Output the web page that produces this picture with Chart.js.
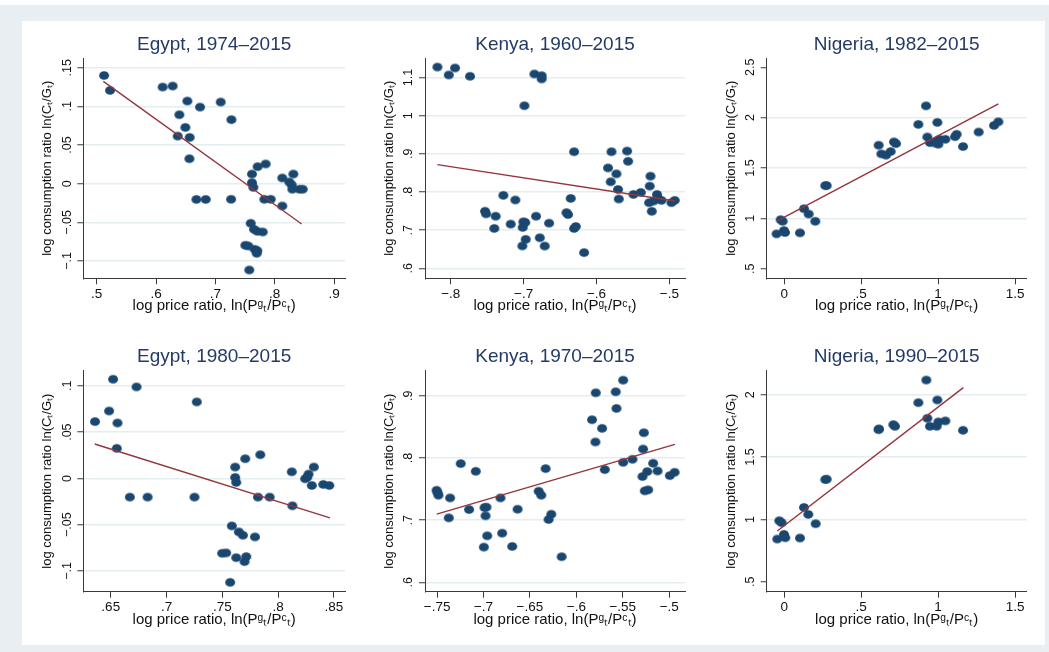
<!DOCTYPE html>
<html><head><meta charset="utf-8">
<script src="https://cdn.jsdelivr.net/npm/chart.js@4"></script>
<style>
html,body{margin:0;padding:0;background:#fff;width:1049px;height:652px;overflow:hidden;}
#frame{position:absolute;left:0;top:5px;width:1049px;height:647px;background:#e8eef1;}
#inner{position:absolute;left:22px;top:21px;width:1023px;height:624px;background:#fff;}
canvas{position:absolute;}
</style></head><body>
<div id="frame"></div><div id="inner"></div>
<script>
// ---------- DATA ----------
const panelTitles = ['Egypt, 1974–2015','Kenya, 1960–2015','Nigeria, 1982–2015','Egypt, 1980–2015','Kenya, 1970–2015','Nigeria, 1990–2015'];
const xAxisTitle = 'log price ratio, ln(Pᵍₜ/Pᶜₜ)';
const yAxisTitle = 'log consumption ratio ln(Cₜ/Gₜ)';

const egypt74X = [.5124,.5225,.6112,.628,.6528,.6742,.709,.727,.6393,.6494,.6365,.6567,.6562,.668,.6837,.7265,.7848,.7713,.7617,.7617,.764,.7825,.7933,.8128,.8314,.8246,.8286,.8297,.8415,.8472,.8128,.7596,.7652,.7707,.7798,.7505,.7555,.7663,.7707,.7697,.7572];
const egypt74Y = [.140,.1207,.125,.1263,.1069,.0991,.1056,.0828,.0892,.0728,.0616,.0599,.0323,-.0203,-.0203,-.0202,.0255,.022,.0125,.0013,-.0047,-.0202,-.0202,.0074,.0125,.0022,-.0013,-.0072,-.0072,-.0072,-.0288,-.0512,-.059,-.0616,-.0625,-.0797,-.0806,-.0849,-.0866,-.09,-.1116];
const egypt74FitX = [.5112,.8455];
const egypt74FitY = [.1323,-.0521];

const kenya60X = [-.8183,-.8027,-.7941,-.7735,-.6852,-.6752,-.6752,-.6989,-.6307,-.5794,-.558,-.5566,-.5841,-.5726,-.5804,-.5704,-.5694,-.5492,-.5392,-.5259,-.5269,-.5169,-.5155,-.5278,-.5214,-.5108,-.5241,-.4971,-.4926,-.6353,-.6412,-.639,-.665,-.6307,-.6284,-.6778,-.671,-.617,-.7278,-.7113,-.7529,-.7515,-.7383,-.7402,-.7177,-.7003,-.7012,-.6971,-.7017,-.6829,-.6978];
const kenya60Y = [1.1276,1.1068,1.125,1.1033,1.1094,1.105,1.0964,1.0262,.9056,.9056,.9074,.8806,.8632,.8476,.8268,.8068,.7818,.7938,.799,.8416,.8156,.7938,.7826,.7722,.7766,.7782,.7496,.7722,.7782,.7834,.7462,.741,.7184,.7046,.7098,.6804,.6586,.6414,.7913,.7792,.7497,.7428,.7367,.7047,.716,.722,.7073,.6761,.6588,.7367,.7203];
const kenya60FitX = [-.8183,-.4923];
const kenya60FitY = [.8719,.7766];

const nigeria82X = [-.0499,-.0238,-.0108,-.0022,.0043,.1019,.1279,.1582,.2016,.2753,.6135,.6308,.6612,.6915,.7132,.7262,.8714,.9213,.9299,.9473,.9863,.995,1.0015,1.008,1.047,1.1099,1.1207,1.1619,1.2638,1.3635,1.3917,.9798,.2666];
const nigeria82Y = [.8457,.9869,.9704,.8785,.8588,.8555,1.0952,1.0427,.9704,1.3251,1.7258,1.6404,1.6273,1.6634,1.7586,1.7422,1.9327,2.1166,1.8079,1.7521,1.7652,1.9524,1.7356,1.7849,1.7849,1.8112,1.8342,1.7126,1.8571,1.9228,1.9589,1.7488,1.325];
const nigeria82FitX = [-.0455,1.3917];
const nigeria82FitY = [.9737,2.1363];

const egypt80X = [.6359,.6485,.6521,.656,.6554,.6731,.6671,.683,.725,.7271,.7585,.7615,.7615,.7624,.7705,.784,.7819,.7924,.7648,.7684,.7792,.7498,.7534,.7624,.7714,.7699,.757,.8122,.8128,.8242,.8272,.832,.8302,.8404,.8458,.826];
const egypt80Y = [.0614,.0729,.1072,.0599,.0325,.0989,-.0202,-.0202,-.0202,.0827,-.0513,.0123,.0011,-.0043,.0213,.0256,-.0202,-.0202,-.0578,-.0614,-.0632,-.0809,-.0805,-.0856,-.0845,-.0899,-.1123,.0072,-.0296,-.0004,.0047,.0123,-.0076,-.0065,-.0076,.0011];
const egypt80FitX = [.6356,.8464];
const egypt80FitY = [.0372,-.0426];

const kenya70X = [-.7505,-.7495,-.7485,-.736,-.7374,-.7245,-.7155,-.7083,-.6989,-.6968,-.6978,-.696,-.6996,-.6817,-.6799,-.6691,-.6633,-.6406,-.6378,-.6331,-.6299,-.627,-.6158,-.5831,-.5795,-.5791,-.5723,-.5694,-.5576,-.5568,-.5496,-.5496,-.5396,-.5273,-.5281,-.5288,-.5263,-.5227,-.5237,-.5173,-.5126,-.4993,-.4942];
const kenya70Y = [.7481,.7444,.7401,.7358,.7037,.7909,.7171,.7786,.7203,.7209,.707,.6749,.6567,.7358,.6791,.6578,.7176,.7465,.7401,.7829,.7011,.7096,.6412,.8615,.8257,.9048,.8476,.7813,.9064,.8797,.9251,.793,.7979,.8406,.8144,.7701,.7471,.7487,.7781,.7914,.7791,.7717,.777];
const kenya70FitX = [-.7504,-.4939];
const kenya70FitY = [.7096,.8219];

const nigeria90X = [-.0455,-.0325,-.0173,-.0022,.0065,.1019,.1279,.1561,.2038,.2753,.2665,.6157,.6125,.7089,.7197,.8714,.9235,.93,.9473,.9907,.995,1.0015,1.047,1.1619];
const nigeria90Y = [.8425,.9893,.9733,.8799,.8532,.8505,1.0961,1.04,.9653,1.3229,1.32,1.7259,1.72,1.7606,1.7473,1.9367,2.1182,1.8113,1.7473,1.7473,1.9581,1.782,1.79,1.7152];
const nigeria90FitX = [-.0455,1.164];
const nigeria90FitY = [.9066,2.0568];

// tick values and labels
const egypt74XTicks = [.5,.6,.7,.8,.9];
const egypt74XLabels = ['.5','.6','.7','.8','.9'];
const egypt74YTicks = [-.1,-.05,0,.05,.1,.15];
const egypt74YLabels = ['−.1','−.05','0','.05','.1','.15'];
const kenya60XTicks = [-.8,-.7,-.6,-.5];
const kenya60XLabels = ['−.8','−.7','−.6','−.5'];
const kenya60YTicks = [.6,.7,.8,.9,1,1.1];
const kenya60YLabels = ['.6','.7','.8','.9','1','1.1'];
const nigeriaXTicks = [0,.5,1,1.5];
const nigeriaXLabels = ['0','.5','1','1.5'];
const nigeria82YTicks = [.5,1,1.5,2,2.5];
const nigeria82YLabels = ['.5','1','1.5','2','2.5'];
const egypt80XTicks = [.65,.7,.75,.8,.85];
const egypt80XLabels = ['.65','.7','.75','.8','.85'];
const egypt80YTicks = [-.1,-.05,0,.05,.1];
const egypt80YLabels = ['−.1','−.05','0','.05','.1'];
const kenya70XTicks = [-.75,-.7,-.65,-.6,-.55,-.5];
const kenya70XLabels = ['−.75','−.7','−.65','−.6','−.55','−.5'];
const kenya70YTicks = [.6,.7,.8,.9];
const kenya70YLabels = ['.6','.7','.8','.9'];
const nigeria90YTicks = [.5,1,1.5,2];
const nigeria90YLabels = ['.5','1','1.5','2'];

// axis ranges
const egypt74XRange = [.4774,.9185], egypt74YRange = [-.1224,.1622];
const kenya60XRange = [-.8353,-.4785], kenya60YRange = [.574,1.1504];
const nigeria82XRange = [-.1144,1.576], nigeria82YRange = [.4044,2.589];
const egypt80XRange = [.6254,.8599], egypt80YRange = [-.1224,.1166];
const kenya70XRange = [-.763,-.483], kenya70YRange = [.585,.9406];
const nigeria90XRange = [-.1144,1.576], nigeria90YRange = [.42,2.1946];

// ---------- LAYOUT / STYLE ----------
const FONT = '"Liberation Sans", Arial, Helvetica, sans-serif';
const colGeom = [{cl:28,cr:352,pl:83.3,pr:345},{cl:368,cr:692,pl:425,pr:685},{cl:708,cr:1040,pl:766.7,pr:1026.7}];
const rowGeom = [{ct:24,cb:322,pt:58.3,pb:278.3,titleY:45,xTitleY:306},{ct:334,cb:640,pt:370.5,pb:591.7,titleY:356.7,xTitleY:620}];
const MARKER = '#1a476f', FITCOL = '#93363c', GRID = '#e4edf0', AXIS = '#3a3a3a', TITLECOL = '#243a66', TEXT = '#111';
const TITLE_SIZE = 19, XT_SIZE = 15, YT_SIZE = 13, XTICK_SIZE = 13.5, YTICK_SIZE = 12.5, TICKLEN = 6;

function makeDot(w,h,color){
  const c=document.createElement('canvas');c.width=Math.ceil(w)+2;c.height=Math.ceil(h)+2;
  const g=c.getContext('2d');g.fillStyle=color;g.beginPath();g.ellipse(c.width/2,c.height/2,w/2,h/2,0,0,Math.PI*2);g.fill();return c;
}
const dot = makeDot(10,8.6,MARKER);

const panels = [
  {xs:egypt74X,ys:egypt74Y,fx:egypt74FitX,fy:egypt74FitY,xt:egypt74XTicks,xl:egypt74XLabels,yt:egypt74YTicks,yl:egypt74YLabels,xr:egypt74XRange,yr:egypt74YRange,noGrid:[]},
  {xs:kenya60X,ys:kenya60Y,fx:kenya60FitX,fy:kenya60FitY,xt:kenya60XTicks,xl:kenya60XLabels,yt:kenya60YTicks,yl:kenya60YLabels,xr:kenya60XRange,yr:kenya60YRange,noGrid:[]},
  {xs:nigeria82X,ys:nigeria82Y,fx:nigeria82FitX,fy:nigeria82FitY,xt:nigeriaXTicks,xl:nigeriaXLabels,yt:nigeria82YTicks,yl:nigeria82YLabels,xr:nigeria82XRange,yr:nigeria82YRange,noGrid:[.5,2.5]},
  {xs:egypt80X,ys:egypt80Y,fx:egypt80FitX,fy:egypt80FitY,xt:egypt80XTicks,xl:egypt80XLabels,yt:egypt80YTicks,yl:egypt80YLabels,xr:egypt80XRange,yr:egypt80YRange,noGrid:[]},
  {xs:kenya70X,ys:kenya70Y,fx:kenya70FitX,fy:kenya70FitY,xt:kenya70XTicks,xl:kenya70XLabels,yt:kenya70YTicks,yl:kenya70YLabels,xr:kenya70XRange,yr:kenya70YRange,noGrid:[]},
  {xs:nigeria90X,ys:nigeria90Y,fx:nigeria90FitX,fy:nigeria90FitY,xt:nigeriaXTicks,xl:nigeriaXLabels,yt:nigeria90YTicks,yl:nigeria90YLabels,xr:nigeria90XRange,yr:nigeria90YRange,noGrid:[.5]}
];

const yTickPlugin = {
  id:'yTickLabels',
  afterDraw(chart){
    const s=chart.scales.y, ctx=chart.ctx, labels=chart.options.plugins.yTickLabels.labels;
    ctx.save();
    ctx.font = YTICK_SIZE+'px '+FONT; ctx.fillStyle=TEXT; ctx.textAlign='center'; ctx.textBaseline='middle';
    s.ticks.forEach((t,i)=>{
      const y=s.getPixelForValue(t.value);
      ctx.save(); ctx.translate(chart.chartArea.left-16, y); ctx.rotate(-Math.PI/2); ctx.fillText(labels[i],0,0); ctx.restore();
    });
    ctx.restore();
  }
};

panels.forEach((p,idx)=>{
  const col=colGeom[idx%3], row=rowGeom[Math.floor(idx/3)];
  const W=col.cr-col.cl, H=row.cb-row.ct;
  const cv=document.createElement('canvas');
  cv.width=W; cv.height=H; cv.style.left=col.cl+'px'; cv.style.top=row.ct+'px';
  cv.style.width=W+'px'; cv.style.height=H+'px';
  document.body.appendChild(cv);

  const titleLH = TITLE_SIZE*1.2;
  const tPadTop = (row.titleY-row.ct) - titleLH/2;
  const tPadBot = (row.pt-row.ct) - titleLH - tPadTop;
  const xScaleH = row.cb-row.pb;
  const xTitlePad = (row.cb-row.xTitleY) - XT_SIZE*1.2/2;
  const yScaleW = col.pl-col.cl;
  const yTitlePad = (col.pl-35.5-col.cl) - YT_SIZE*1.2/2;
  const xTickPad = 15.5 - TICKLEN - XTICK_SIZE*1.2/2;

  const pts = p.xs.map((x,i)=>({x, y:p.ys[i]}));
  const fit = p.fx.map((x,i)=>({x, y:p.fy[i]}));

  new Chart(cv.getContext('2d'), {
    type:'scatter',
    data:{datasets:[
      {type:'line', data:fit, borderColor:FITCOL, borderWidth:1.4, pointRadius:0, fill:false, order:0},
      {data:pts, pointStyle:dot, pointRadius:5, backgroundColor:MARKER, pointBorderWidth:0, order:1}
    ]},
    options:{
      responsive:false, animation:false, devicePixelRatio:1,
      layout:{padding:{left:0,right:col.cr-col.pr,top:0,bottom:0}},
      plugins:{
        legend:{display:false}, tooltip:{enabled:false},
        title:{display:true, text:panelTitles[idx], color:TITLECOL, fullSize:false,
               font:{family:FONT,size:TITLE_SIZE,weight:'normal'}, padding:{top:tPadTop,bottom:tPadBot}},
        yTickLabels:{labels:p.yl}
      },
      scales:{
        x:{type:'linear', min:p.xr[0], max:p.xr[1],
           afterBuildTicks:(s)=>{s.ticks=p.xt.map(v=>({value:v}));},
           afterFit:(s)=>{s.height=xScaleH;},
           ticks:{autoSkip:false, maxRotation:0, minRotation:0, padding:xTickPad, color:TEXT,
                  font:{family:FONT,size:XTICK_SIZE}, callback:(v,i)=>p.xl[i]},
           grid:{drawOnChartArea:false, drawTicks:true, tickLength:TICKLEN, tickColor:AXIS, tickWidth:1},
           border:{display:true, color:AXIS, width:1},
           title:{display:true, text:xAxisTitle, color:TEXT, font:{family:FONT,size:XT_SIZE}, padding:{top:0,bottom:xTitlePad}}
        },
        y:{type:'linear', min:p.yr[0], max:p.yr[1],
           afterBuildTicks:(s)=>{s.ticks=p.yt.map(v=>({value:v}));},
           afterFit:(s)=>{s.width=yScaleW;},
           ticks:{display:false},
           grid:{drawOnChartArea:true, drawTicks:true, tickLength:TICKLEN, tickColor:AXIS, tickWidth:1, lineWidth:1.5,
                 color:(c)=> (c.tick && p.noGrid.some(v=>Math.abs(v-c.tick.value)<1e-9)) ? 'rgba(0,0,0,0)' : GRID},
           border:{display:true, color:AXIS, width:1},
           title:{display:true, text:yAxisTitle, color:TEXT, font:{family:FONT,size:YT_SIZE}, padding:{top:yTitlePad,bottom:0}}
        }
      }
    },
    plugins:[yTickPlugin]
  });
});
</script>
</body></html>
